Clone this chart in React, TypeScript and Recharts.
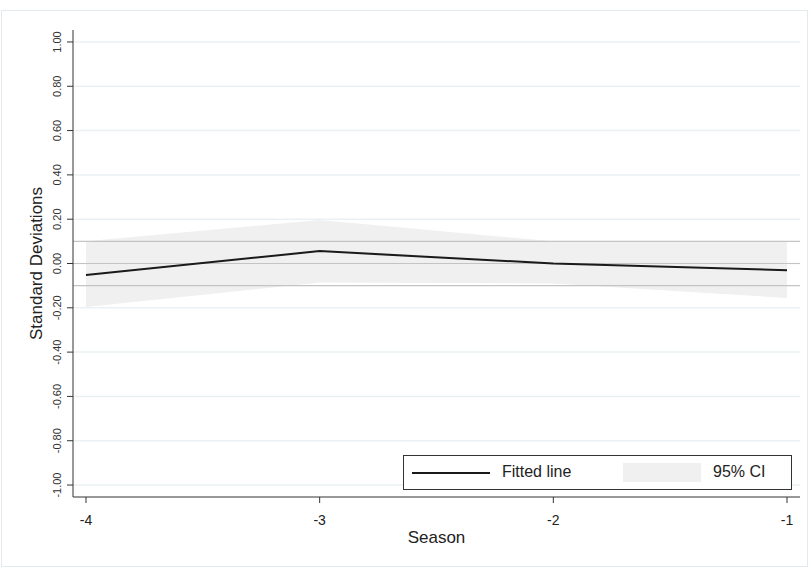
import {
  ComposedChart,
  Area,
  Line,
  XAxis,
  YAxis,
  ReferenceLine
} from "recharts"

const seasons = [-4, -3, -2, -1]
const fitted = [-0.052, 0.056, 0.0, -0.03]
const ciLow = [-0.196, -0.086, -0.09, -0.156]
const ciHigh = [0.1, 0.196, 0.1, 0.1]
const yTicks = [-1, -0.8, -0.6, -0.4, -0.2, 0, 0.2, 0.4, 0.6, 0.8, 1]
const refLines = [0.1, 0, -0.1]

const data = seasons.map((s, i) => ({
  season: s,
  fit: fitted[i],
  ci: [ciLow[i], ciHigh[i]]
}))

const font = "'Liberation Sans', Arial, sans-serif"

function YTick(props: any) {
  const { x, y, payload } = props
  return (
    <text
      x={x - 4}
      y={y}
      transform={`rotate(-90, ${x - 4}, ${y})`}
      textAnchor="middle"
      fontSize={11}
      fill="#333"
      fontFamily={font}
    >
      {payload.value.toFixed(2)}
    </text>
  )
}

function LegendBox() {
  return (
    <div
      style={{
        position: "absolute",
        left: 403,
        top: 455,
        width: 389,
        height: 35,
        border: "1px solid #333",
        boxSizing: "border-box",
        fontFamily: font,
        fontSize: 16,
        color: "#222",
        background: "#fff"
      }}
    >
      <div style={{ position: "absolute", left: 8, top: 16, width: 78, height: 2, background: "#1a1a1a" }} />
      <div style={{ position: "absolute", left: 98, top: 7 }}>Fitted line</div>
      <div style={{ position: "absolute", left: 219, top: 7, width: 78, height: 19, background: "#f0f0f0" }} />
      <div style={{ position: "absolute", left: 309, top: 7 }}>95% CI</div>
    </div>
  )
}

export default function App() {
  return (
    <div style={{ position: "absolute", left: 0, top: 0, width: 811, height: 569, background: "#fff" }}>
      <div
        style={{
          position: "absolute",
          left: 1,
          top: 10,
          width: 807,
          height: 557,
          border: "1px solid #e3eaee",
          boxSizing: "border-box"
        }}
      />
      <ComposedChart
        width={811}
        height={569}
        data={data}
        margin={{ top: 30, right: 11, bottom: 0, left: 0 }}
        style={{ position: "absolute", left: 0, top: 0 }}
      >
        <XAxis
          dataKey="season"
          type="number"
          domain={[-4.0556, -0.9444]}
          ticks={seasons}
          allowDataOverflow
          stroke="#333"
          tickSize={6}
          height={72}
          tick={{ fontSize: 14, fill: "#222", fontFamily: font, dy: 10 }}
          label={{ value: "Season", position: "insideBottom", offset: 0, dy: -26, style: { fontSize: 17, fill: "#222", fontFamily: font } }}
        />
        <YAxis
          type="number"
          domain={[-1.054, 1.054]}
          ticks={yTicks}
          allowDataOverflow
          width={73}
          stroke="#333"
          tickSize={6}
          tick={<YTick />}
          label={{
            value: "Standard Deviations",
            angle: -90,
            position: "insideLeft",
            offset: 36,
            style: { fontSize: 17, fill: "#222", fontFamily: font, textAnchor: "middle" }
          }}
        />
        {yTicks.map((v) => (
          <ReferenceLine key={"g" + v} y={v} stroke="#eaf1f4" strokeWidth={1.5} />
        ))}
        <Area
          dataKey="ci"
          type="linear"
          fill="#f0f0f0"
          fillOpacity={1}
          stroke="none"
          isAnimationActive={false}
        />
        {refLines.map((v) => (
          <ReferenceLine key={"r" + v} y={v} stroke="#c4c4c4" strokeWidth={1.2} />
        ))}
        <Line
          dataKey="fit"
          type="linear"
          stroke="#1a1a1a"
          strokeWidth={2}
          dot={false}
          isAnimationActive={false}
        />
      </ComposedChart>
      <LegendBox />
    </div>
  )
}
